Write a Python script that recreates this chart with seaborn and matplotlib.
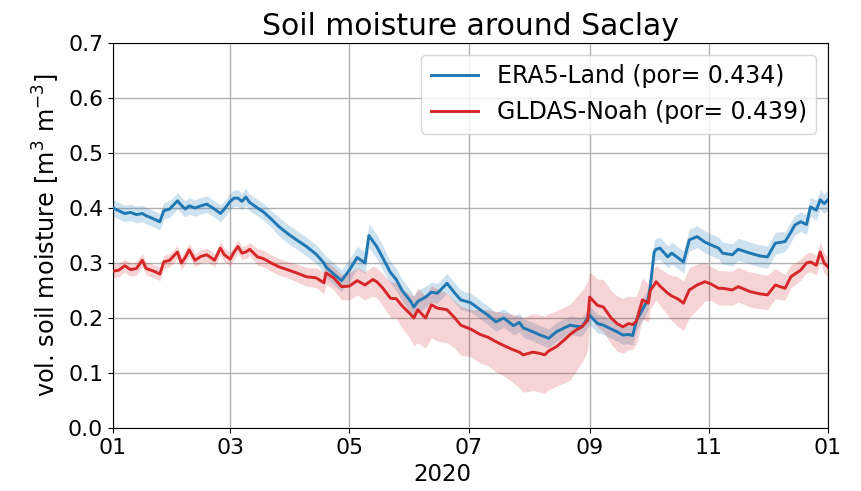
import numpy as np
import pandas as pd
import matplotlib
matplotlib.use("Agg")
import matplotlib.pyplot as plt
import matplotlib.dates as mdates
import seaborn as sns

# ---- data (day offsets from 2020-01-01) ----
days = [0,3,6,9,12,15,17,21,24,26,
        29,33,35,37,39,42,45,48,52,55,
        57,60,62,64,66,68,70,74,77,81,
        85,90,94,99,104,108,109,113,117,121,
        125,129,131,133,135,138,142,145,148,152,
        154,156,160,163,166,171,175,178,183,188,
        192,196,200,205,208,210,215,218,221,223,
        227,231,234,237,240,243,244,248,251,255,
        258,261,264,266,268,271,274,275,277,278,
        280,284,286,289,292,295,299,303,306,310,
        312,317,320,326,331,335,339,344,347,349,
        352,355,357,360,362,364,366]

era5 = [0.400,0.395,0.390,0.392,0.388,0.390,0.386,0.380,0.375,0.395,
        0.398,0.413,0.405,0.398,0.404,0.400,0.404,0.407,0.398,0.390,
        0.398,0.412,0.418,0.418,0.412,0.420,0.410,0.400,0.393,0.380,
        0.366,0.352,0.342,0.330,0.316,0.300,0.293,0.280,0.268,0.287,
        0.310,0.300,0.350,0.340,0.330,0.310,0.283,0.270,0.250,0.232,
        0.220,0.230,0.238,0.247,0.245,0.263,0.245,0.233,0.228,0.215,
        0.205,0.193,0.200,0.186,0.192,0.182,0.175,0.170,0.166,0.163,
        0.175,0.182,0.187,0.185,0.184,0.200,0.205,0.190,0.187,0.180,
        0.175,0.169,0.170,0.168,0.196,0.215,0.235,0.257,0.320,0.325,
        0.327,0.311,0.318,0.310,0.302,0.342,0.348,0.338,0.333,0.327,
        0.318,0.315,0.325,0.318,0.313,0.311,0.336,0.339,0.356,0.369,
        0.375,0.370,0.402,0.396,0.415,0.408,0.415]

era5_spread = [0.015]*30 + \
    [0.017]*6 + [0.02]*4 + \
    [0.02,0.02,0.022,0.022,0.022,0.022,0.02,0.02,0.02,0.02] + \
    [0.02,0.02,0.02,0.018,0.018,0.018,0.018,0.018,0.017,0.017] + \
    [0.017]*10 + [0.017]*10 + \
    [0.017]*4 + [0.018,0.02,0.02,0.02,0.02,0.02] + \
    [0.02]*10 + [0.02]*7 + [0.018]*3 + [0.018]*7

gldas = [0.285,0.287,0.295,0.288,0.290,0.305,0.290,0.285,0.280,0.302,
         0.305,0.320,0.300,0.310,0.324,0.305,0.312,0.315,0.305,0.327,
         0.315,0.307,0.320,0.330,0.318,0.320,0.325,0.311,0.308,0.300,
         0.293,0.287,0.282,0.275,0.273,0.264,0.282,0.273,0.257,0.258,
         0.268,0.260,0.265,0.270,0.266,0.255,0.236,0.235,0.222,0.208,
         0.200,0.215,0.200,0.224,0.218,0.215,0.200,0.187,0.180,0.170,
         0.165,0.157,0.150,0.142,0.138,0.133,0.138,0.136,0.133,0.140,
         0.148,0.160,0.170,0.178,0.184,0.196,0.238,0.223,0.220,0.200,
         0.190,0.184,0.190,0.188,0.195,0.233,0.227,0.250,0.260,0.266,
         0.258,0.245,0.240,0.235,0.227,0.251,0.260,0.266,0.262,0.254,
         0.254,0.251,0.257,0.248,0.244,0.242,0.260,0.254,0.275,0.280,
         0.287,0.300,0.302,0.296,0.320,0.300,0.293]

gldas_spread_low = [0.012]*27 + [0.015]*3 + \
    [0.015,0.015,0.016,0.017,0.018,0.02,0.02,0.022,0.024,0.025] + \
    [0.026,0.027,0.028,0.03,0.03,0.032,0.035,0.035,0.04,0.045] + \
    [0.05,0.06,0.055,0.06,0.06,0.06,0.055,0.055,0.05,0.052] + \
    [0.052,0.055,0.055,0.06,0.065,0.068,0.07,0.07,0.07,0.07] + \
    [0.072,0.078,0.083,0.075,0.065,0.055,0.036,0.04,0.045,0.048] + \
    [0.05,0.048,0.048,0.045,0.042,0.035,0.035,0.033,0.033,0.033] + \
    [0.035,0.04,0.045,0.05,0.05,0.05,0.045,0.035,0.03,0.03] + \
    [0.03,0.028,0.028,0.028,0.027,0.027,0.025,0.022,0.02,0.02] + \
    [0.018]*7

gldas_spread_high = [0.012]*27 + [0.015]*3 + \
    [0.015,0.015,0.016,0.017,0.018,0.02,0.02,0.02,0.022,0.024] + \
    [0.024,0.024,0.024,0.024,0.025,0.026,0.03,0.03,0.03,0.035] + \
    [0.04,0.04,0.04,0.035,0.035,0.03,0.03,0.035,0.035,0.045] + \
    [0.05,0.055,0.06,0.065,0.065,0.068,0.07,0.07,0.07,0.068] + \
    [0.065,0.06,0.055,0.06,0.065,0.07,0.046,0.048,0.05,0.05] + \
    [0.05,0.052,0.05,0.05,0.045,0.04,0.035,0.03,0.03,0.03] + \
    [0.032,0.035,0.038,0.04,0.04,0.04,0.038,0.035,0.032,0.032] + \
    [0.032,0.034,0.035,0.036,0.036,0.036,0.03,0.025,0.022,0.02] + \
    [0.02,0.018,0.018,0.018,0.018,0.018,0.018]

labels = ["ERA5-Land (por= 0.434)", "GLDAS-Noah (por= 0.439)"]
colors = ["#1f77b4", "#d62728"]
xticks_months = [1, 3, 5, 7, 9, 11]

# ---- build frame ----
dates = pd.Timestamp("2020-01-01") + pd.to_timedelta(days, unit="D")
df = pd.concat([
    pd.DataFrame({"date": dates, "sm": era5, "product": labels[0]}),
    pd.DataFrame({"date": dates, "sm": gldas, "product": labels[1]}),
], ignore_index=True)

e = np.array(era5); es = np.array(era5_spread)
g = np.array(gldas); gl = np.array(gldas_spread_low); gh = np.array(gldas_spread_high)

fig = plt.figure(figsize=(8.61, 4.91), dpi=100)
ax = fig.add_axes([0.1312, 0.1283, 0.9617 - 0.1312, 0.9124 - 0.1283])

ax.fill_between(dates, e - es, e + es, color=colors[0], alpha=0.22, linewidth=0, zorder=1.5)
ax.fill_between(dates, g - gl, g + gh, color=colors[1], alpha=0.2, linewidth=0, zorder=1.5)

sns.lineplot(data=df, x="date", y="sm", hue="product", palette=colors,
             linewidth=2.1, ax=ax, zorder=3)

ax.set_xlim(pd.Timestamp("2020-01-01"), pd.Timestamp("2021-01-01"))
ax.set_ylim(0.0, 0.7)
ax.set_yticks(np.arange(0, 0.71, 0.1))
ax.xaxis.set_major_locator(mdates.MonthLocator(bymonth=xticks_months))
ax.xaxis.set_major_formatter(mdates.DateFormatter("%m"))
ax.grid(True, color="#b0b0b0", linewidth=1.0)
ax.set_axisbelow(True)
ax.tick_params(labelsize=15.8)
ax.set_xlabel("2020", fontsize=16.5)
ax.xaxis.label.set_x(0.46)
ax.set_ylabel(r"vol. soil moisture [m$^3$ m$^{-3}$]", fontsize=17.3)
ax.set_title("Soil moisture around Saclay", fontsize=21.5)
leg = ax.legend(loc="upper right", fontsize=17, title=None)
for line in leg.get_lines():
    line.set_linewidth(2.1)

fig.savefig("out.png", dpi=100)
